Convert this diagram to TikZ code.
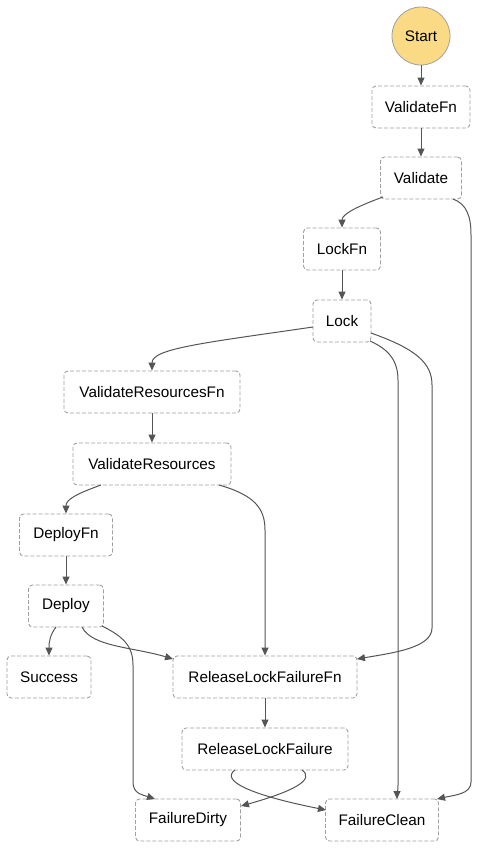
\documentclass[tikz,border=0pt]{standalone}
\usepackage{fontspec}
\setmainfont{Liberation Sans}
\usetikzlibrary{arrows.meta}
\definecolor{startfill}{RGB}{250,218,132}
\definecolor{boxline}{RGB}{160,160,160}
\definecolor{edgecol}{RGB}{85,85,85}
\begin{document}
\begin{tikzpicture}[x=1pt,y=-1pt,
  state/.style={draw=boxline, dash pattern=on 4pt off 2pt, rounded corners=4pt, line width=0.9pt,
    minimum height=42pt, inner sep=0pt, font=\fontsize{15.3}{17}\selectfont, fill=white},
  startnode/.style={circle, draw=boxline, line width=0.8pt, fill=startfill, minimum size=58pt,
    inner sep=0pt, font=\fontsize{15.3}{17}\selectfont},
  edge/.style={draw=edgecol, line width=1pt, -{Triangle[length=8pt,width=7pt]}}]
\useasboundingbox (0,0) rectangle (480,849);

\node[startnode] (start) at (421,36) {Start};
\node[state, minimum width=98pt] (vfn) at (421,107) {ValidateFn};
\node[state, minimum width=81pt] (val) at (421,178) {Validate};
\node[state, minimum width=77pt] (lockfn) at (342,249) {LockFn};
\node[state, minimum width=58pt] (lock) at (342,321) {Lock};
\node[state, minimum width=176pt] (vrf) at (152,392) {ValidateResourcesFn};
\node[state, minimum width=158pt] (vr) at (152,464) {ValidateResources};
\node[state, minimum width=93pt] (dfn) at (66,535) {DeployFn};
\node[state, minimum width=75pt] (dep) at (66,606) {Deploy};
\node[state, minimum width=84pt] (succ) at (49,677) {Success};
\node[state, minimum width=184pt] (rlffn) at (265,677) {ReleaseLockFailureFn};
\node[state, minimum width=166pt] (rlf) at (265,749) {ReleaseLockFailure};
\node[state, minimum width=105pt] (fd) at (188,820) {FailureDirty};
\node[state, minimum width=113pt] (fc) at (382,820) {FailureClean};

\draw[edge] (start) -- (vfn);
\draw[edge] (vfn) -- (val);
\draw[edge] ([shift={(-38,19)}]val.center) .. controls +(-22,8) and +(0,-14) .. (lockfn.north);
\draw[edge] ([shift={(32,21)}]val.center) .. controls +(14,5) and +(0,-18) .. (471,235)
  -- (471,782) .. controls +(0,12) and +(18,-4) .. ([shift={(55,-21)}]fc.center);
\draw[edge] (lockfn) -- (lock);
\draw[edge] ([shift={(-29,6)}]lock.center) .. controls +(-110,16) and +(0,-22) .. (vrf.north);
\draw[edge] ([shift={(28,20)}]lock.center) .. controls +(18,8) and +(0,-20) .. (398,380)
  -- (398,785) .. controls +(0,8) and +(0,-6) .. ([shift={(15,-21)}]fc.center);
\draw[edge] ([shift={(29,12)}]lock.center) .. controls +(45,16) and +(0,-22) .. (432,385)
  -- (432,628) .. controls +(0,20) and +(35,-6) .. ([shift={(92,-18)}]rlffn.center);
\draw[edge] (vrf) -- (vr);
\draw[edge] ([shift={(-51,21)}]vr.center) .. controls +(-25,9) and +(0,-14) .. (dfn.north);
\draw[edge] ([shift={(67,21)}]vr.center) .. controls +(35,10) and +(0,-22) .. (265,530)
  -- (rlffn.north);
\draw[edge] (dfn) -- (dep);
\draw[edge] ([shift={(-10,21)}]dep.center) .. controls +(-6,8) and +(0,-14) .. (succ.north);
\draw[edge] ([shift={(16,21)}]dep.center) .. controls +(10,20) and +(-40,-12) .. ([shift={(-92,-18)}]rlffn.center);
\draw[edge] ([shift={(36,20)}]dep.center) .. controls +(20,10) and +(0,-20) .. (133,665)
  -- (133,782) .. controls +(0,12) and +(-12,-4) .. ([shift={(-33,-21)}]fd.center);
\draw[edge] (rlffn) -- (rlf);
\draw[edge] ([shift={(37,21)}]rlf.center) .. controls +(14,10) and +(50,-14) .. ([shift={(53,-14)}]fd.center);
\draw[edge] ([shift={(-30,21)}]rlf.center) .. controls +(-14,10) and +(-80,-16) .. ([shift={(-56,-10)}]fc.center);
\end{tikzpicture}
\end{document}
